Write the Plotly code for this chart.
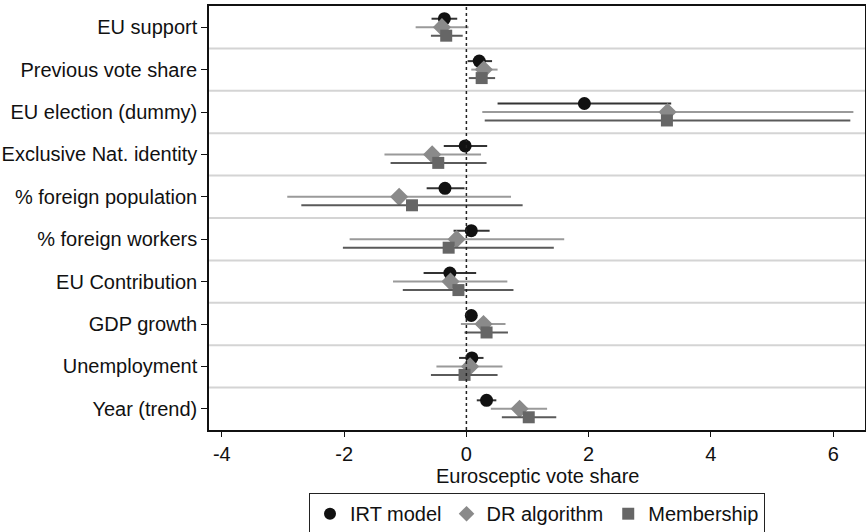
import plotly.graph_objects as go

categories = ["EU support", "Previous vote share", "EU election (dummy)",
              "Exclusive Nat. identity", "% foreign population", "% foreign workers",
              "EU Contribution", "GDP growth", "Unemployment", "Year (trend)"]

irt_est = [-0.36, 0.21, 1.93, -0.02, -0.35, 0.08, -0.27, 0.08, 0.09, 0.33]
irt_lo  = [-0.57, 0.02, 0.51, -0.37, -0.65, -0.21, -0.70, 0.00, -0.12, 0.17]
irt_hi  = [-0.15, 0.42, 3.35, 0.34, -0.03, 0.38, 0.16, 0.15, 0.28, 0.49]

dr_est = [-0.40, 0.285, 3.29, -0.56, -1.10, -0.16, -0.26, 0.28, 0.06, 0.87]
dr_lo  = [-0.83, 0.08, 0.26, -1.34, -2.93, -1.91, -1.20, -0.09, -0.49, 0.40]
dr_hi  = [0.035, 0.51, 6.33, 0.24, 0.73, 1.60, 0.67, 0.64, 0.59, 1.32]

mem_est = [-0.33, 0.25, 3.28, -0.46, -0.89, -0.29, -0.13, 0.33, -0.03, 1.02]
mem_lo  = [-0.58, 0.04, 0.30, -1.24, -2.70, -2.02, -1.04, -0.03, -0.58, 0.58]
mem_hi  = [-0.06, 0.47, 6.28, 0.33, 0.92, 1.43, 0.77, 0.68, 0.51, 1.47]

x_ticks = [-4, -2, 0, 2, 4, 6]
x_tick_labels = ["-4", "-2", "0", "2", "4", "6"]

rows = list(range(len(categories)))
series = [
    ("IRT model", irt_est, irt_lo, irt_hi, -0.2, "circle", 13, "#111111", "#333333"),
    ("DR algorithm", dr_est, dr_lo, dr_hi, 0.0, "diamond", 14, "#8a8a8a", "#9a9a9a"),
    ("Membership", mem_est, mem_lo, mem_hi, 0.2, "square", 12, "#666666", "#5a5a5a"),
]

fig = go.Figure()
for name, est, lo, hi, off, sym, sz, mcol, lcol in series:
    fig.add_trace(go.Scatter(
        x=est, y=[r + off for r in rows], mode="markers", name=name,
        marker=dict(symbol=sym, size=sz, color=mcol, line=dict(width=0)),
        error_x=dict(type="data", symmetric=False,
                     array=[h - e for h, e in zip(hi, est)],
                     arrayminus=[e - l for e, l in zip(est, lo)],
                     color=lcol, thickness=2, width=0),
    ))

shapes = []
for b in range(len(categories) - 1):
    shapes.append(dict(type="line", xref="paper", yref="y", x0=0, x1=1,
                       y0=b + 0.5, y1=b + 0.5, line=dict(color="#d4d4d4", width=2),
                       layer="below"))
shapes.append(dict(type="line", xref="x", yref="paper", x0=0, x1=0, y0=0, y1=1,
                   line=dict(color="#222222", width=1.5, dash="dot")))

fig.update_layout(
    width=866, height=532,
    margin=dict(l=209, r=1, t=6, b=102, autoexpand=False),
    paper_bgcolor="white", plot_bgcolor="white",
    font=dict(family="Liberation Sans, Arial, sans-serif", size=20, color="#111111"),
    shapes=shapes,
    showlegend=True,
    legend=dict(orientation="h", x=0.5, xanchor="center", y=-0.149, yanchor="top",
                bordercolor="#222222", borderwidth=1, font=dict(size=20),
                itemsizing="constant", tracegroupgap=0, itemwidth=30),
    annotations=[dict(text="Eurosceptic vote share", xref="paper", yref="paper",
                      x=0.5, y=-0.079, xanchor="center", yanchor="top",
                      showarrow=False, font=dict(size=20))],
    xaxis=dict(range=[-4.21, 6.52], tickvals=x_ticks, ticktext=x_tick_labels,
               ticks="outside", ticklen=5,
               tickcolor="#111", showgrid=False, zeroline=False,
               showline=True, linecolor="#111", linewidth=1.5, mirror=True),
    yaxis=dict(range=[9.5, -0.5], tickvals=rows, ticktext=categories,
               ticks="outside", ticklen=6, tickcolor="#111", showgrid=False,
               zeroline=False, showline=True, linecolor="#111", linewidth=1.5,
               mirror=True),
)

fig.write_html("out.html", config={"displayModeBar": False},
               post_script="document.body.style.margin='0';")
